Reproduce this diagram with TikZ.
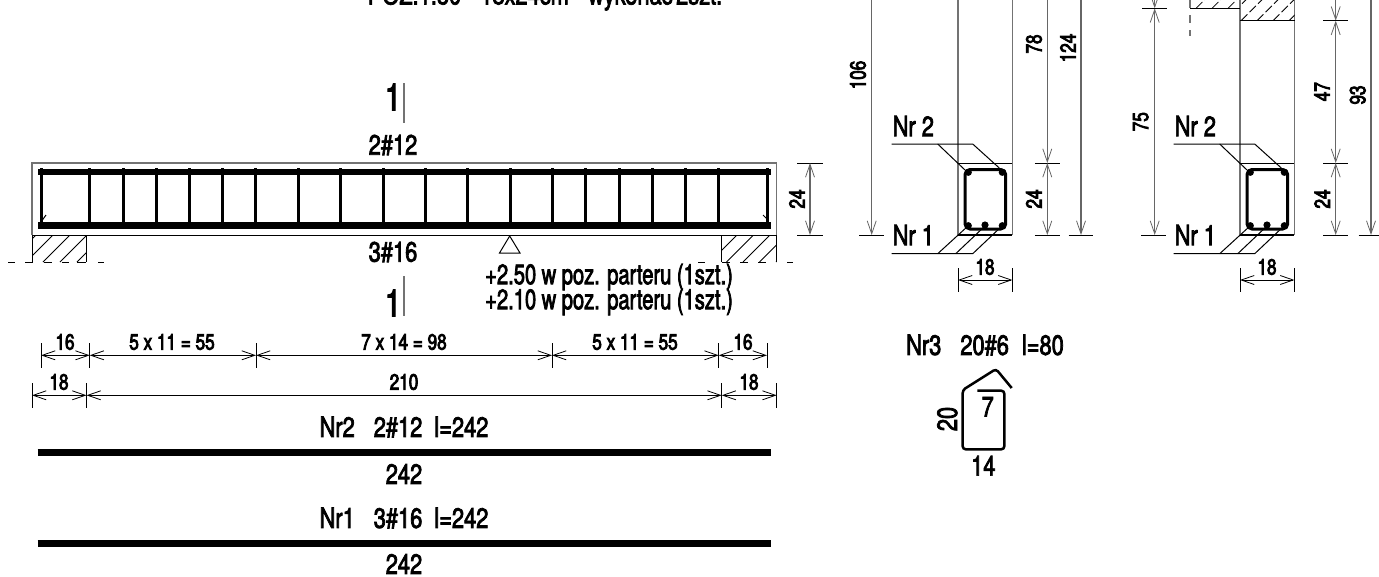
\documentclass[tikz,border=0pt]{standalone}
\usepackage{fontspec}
\setmainfont[FakeStretch=0.78,FakeBold=2.6]{TeX Gyre Heros}
\newfontfamily\narrowfam[FakeStretch=0.72,FakeBold=2.6]{TeX Gyre Heros}
\newfontfamily\smallfam[FakeStretch=0.78,FakeBold=3.6]{TeX Gyre Heros}
\usetikzlibrary{arrows.meta,positioning}
\newcommand\notefont{\fontsize{28}{30}\narrowfam\selectfont\spaceskip 5.5pt\relax}
\newcommand\titlefont{\fontsize{28}{30}\selectfont\spaceskip 3.5pt\relax}
\tikzset{
  thinline/.style = {line width=1pt, black},
  greyline/.style = {line width=1.3pt, black!55},
  hatchline/.style = {line width=.8pt, black},
  rebar/.style = {line width=6.8pt, black},
  stirrup/.style = {line width=3pt, black},
  dimline/.style = {line width=1pt, black, {Straight Barb[length=13pt,width=9pt,line width=.8pt]}-{Straight Barb[length=13pt,width=9pt,line width=.8pt]}},
  dimgrey/.style = {dimline, line width=1.3pt, black!60},
  tick/.style = {line width=1pt, black},
  big/.style = {font=\fontsize{28}{30}\selectfont, inner sep=0pt},
  note/.style = {inner sep=0pt},
  small/.style = {font=\fontsize{22}{24}\smallfam\selectfont, inner sep=0pt},
  huge1/.style = {font=\fontsize{38}{40}\selectfont, inner sep=0pt}
}

\begin{document}
\begin{tikzpicture}[x=1pt,y=-1pt]
\clip (0,0) rectangle (1379,576);

% title, cut by the top edge
\node[note] (title) at (545,-3) {\titlefont POZ.1.50 -- 18x24cm -- wykonać 2szt.};

% supports, under the beam
\begin{scope}
  \clip (32,235) rectangle (86.7,262);
  \foreach \x in {9,26,...,94}
    \draw[hatchline] (\x,262) -- ++(30,-30);
\end{scope}
\begin{scope}
  \clip (721.7,235) rectangle (776.7,262);
  \foreach \x in {710,726.5,...,790}
    \draw[hatchline] (\x,262) -- ++(30,-30);
\end{scope}
\draw[thinline] (32,262) -- (32,235) (86.7,235) -- (86.7,262);
\draw[thinline] (721.7,262) -- (721.7,235) (776.7,235) -- (776.7,262);
\foreach \a/\b in {8/15,25/33,44/52,62/69,77/86,98/104,698/705,722/730,740/748,758/766,787/793}
  \draw[thinline] (\a,262) -- (\b,262);

% beam outline
\draw[thinline] (32,235) -- (776.7,235);
\draw[greyline] (32,235) -- (32,163) -- (776.7,163) -- (776.7,235);

% stirrups
\foreach \x in {41.3,89.7,123,156,189.5,222.5,255.7,298,340.7,383,425.7,467.7,510,552,585.3,619,652.3,685.3,718.7,767}
  \draw[stirrup] (\x,168) -- (\x,229);
\draw[thinline] (41,222) -- (46,215);
\draw[thinline] (768,220) -- (763,215);

% main bars
\draw[rebar] (38,172) -- (771,172);
\draw[rebar] (38,225.5) -- (771,225.5);

% beam labels
\node[huge1] (cut1) at (393,97) {1};
\draw[greyline] (404,83) -- (404,123);
\node[big] (top12) at (393,145) {2\#12};
\node[big] (bot16) at (393,252) {3\#16};
\node[huge1] (cut2) at (393,303) {1};
\draw[greyline] (404,276) -- (404,316);
\draw[thinline] (509.7,236) -- (499.5,253) -- (520,253) -- cycle;
\node[note,anchor=west] (lev1) at (485,277) {\notefont +2.50 w poz. parteru (1szt.)};
\node[note,anchor=west] (lev2) at (485,302) {\notefont +2.10 w poz. parteru (1szt.)};

% 24 at the beam end
\draw[tick] (797,163) -- (823,163) (797,235) -- (823,235);
\draw[dimgrey] (810,163) -- (810,235);
\node[small,rotate=90] (h24) at (797,199) {24};

% stirrup spacing row
\foreach \x in {41,89.7,256,552,718.7,767}
  \draw[tick] (\x,343) -- (\x,368);
\draw[dimline] (41,355.3) -- (89.7,355.3);
\draw[dimline] (89.7,355.3) -- (256,355.3);
\draw[dimline] (256,355.3) -- (552,355.3);
\draw[dimline] (552,355.3) -- (718.7,355.3);
\draw[dimline] (718.7,355.3) -- (767,355.3);
\node[small] (s1) at (65,342) {16};
\node[small] (s2) at (172,342) {5 x 11 = 55};
\node[small] (s3) at (404,342) {7 x 14 = 98};
\node[small] (s4) at (635,342) {5 x 11 = 55};
\node[small] (s5) at (743,342) {16};

% supports row
\foreach \x in {32,86.5,721.7,776.7}
  \draw[tick] (\x,383) -- (\x,408);
\draw[dimline] (32,395.3) -- (86.5,395.3);
\draw[dimline] (86.5,395.3) -- (721.7,395.3);
\draw[dimline] (721.7,395.3) -- (776.7,395.3);
\node[small] (a1) at (59,382) {18};
\node[small] (a2) at (404,382) {210};
\node[small] (a3) at (749,382) {18};

% bars, drawn out
\node[big] (nr2) at (404,427) {Nr2\hspace{19pt}2\#12\hspace{12pt}l=242};
\draw[rebar] (37.7,452.3) -- (770.7,452.3);
\node[big] (l2) at (404,474) {242};
\node[big] (nr1) at (404,518) {Nr1\hspace{19pt}3\#16\hspace{12pt}l=242};
\draw[rebar] (37.7,543.7) -- (770.7,543.7);
\node[big] (l1) at (404,564) {242};

% both cross sections
\foreach \s in {0,282} {
\begin{scope}[xshift=\s pt]
  \draw[greyline] (958,-5) -- (958,235) (1012.4,-5) -- (1012.4,235);
  \draw[thinline] (958,163) -- (1012.4,163);
  \draw[line width=1.2pt] (958,235) -- (1012.4,235);
  \draw[stirrup,rounded corners=5pt] (965,169.5) rectangle (1005.7,229);
  \foreach \x/\y in {968.3/172.3,1002.3/172.3,968.3/225.7,985/225,1002.3/225.7}
    \fill (\x,\y) circle (3.6);
  % leaders
  \node[big,anchor=west] (nrtwo\s) at (892.5,126) {Nr 2};
  \node[big,anchor=west] (nrone\s) at (892.5,235) {Nr 1};
  \draw[thinline] (891.7,144) -- (972.7,144) -- (999.3,168);
  \draw[thinline] (937.7,144) -- (965,170);
  \draw[thinline] (891.7,253.7) -- (972.7,253.7) -- (1002,226);
  \draw[thinline] (937.7,253.7) -- (968,226);
  \draw[thinline] (955.7,253.7) -- (985,226);
  % width
  \draw[tick] (958,268) -- (958,292) (1012.4,268) -- (1012.4,292);
  \draw[dimline] (958,280) -- (1012.4,280);
  \node[small] (wid\s) at (985,267) {18};
  % tick of the long left height
  \draw[tick] (859,235) -- (884,235);
\end{scope}
}

% the 24 beside each section
\foreach \x/\n in {1047.3/a,1335.7/b} {
  \draw[tick] (\x-12.5,163) -- (\x+12.5,163);
  \draw[tick] (\x-12.5,235) -- (\x+12.5,235);
  \draw[dimgrey] (\x,163) -- (\x,235);
  \node[small,rotate=90] (low\n) at (\x-13.5,199) {24};
}

% left section, heights
\draw[dimgrey] (871.7,-40) -- (871.7,235);
\node[small,rotate=90] (d106) at (858,75) {106};
\draw[dimgrey] (1047.3,-40) -- (1047.3,163);
\node[small,rotate=90] (d78) at (1034,44) {78};
\draw[dimgrey] (1081,-40) -- (1081,235);
\draw[tick] (1068.7,235) -- (1093,235);
\node[small,rotate=90] (d124) at (1068,48) {124};

% right section, top part
\begin{scope}
  \clip (1190,0) rectangle (1240,8.3);
  \foreach \x in {1180,1196,...,1250}
    \draw[hatchline,dash pattern=on 9pt off 3pt] (\x,8.3) -- ++(30,-30);
\end{scope}
\begin{scope}
  \clip (1240,0) rectangle (1294.7,20.7);
  \foreach \x in {1225,1241,...,1300}
    \draw[hatchline,dash pattern=on 9pt off 3pt] (\x,20.7) -- ++(30,-30);
\end{scope}
\draw[thinline] (1190,8.3) -- (1240,8.3);
\draw[line width=1.2pt] (1240,20.7) -- (1294.7,20.7);
\draw[greyline,dash pattern=on 8pt off 7pt] (1190,0) -- (1190,36);
\draw[dimgrey] (1154.7,-40) -- (1154.7,8.3);
\draw[dimgrey] (1154.7,8.3) -- (1154.7,235);
\draw[tick] (1142,8.3) -- (1167,8.3);
\node[small,rotate=90] (d75) at (1140.7,121.7) {75};
\draw[dimgrey] (1335.7,-40) -- (1335.7,20.7);
\draw[dimgrey] (1335.7,20.7) -- (1335.7,163);
\draw[tick] (1323,20.7) -- (1348,20.7);
\node[small,rotate=90] (d47) at (1322,91.7) {47};
\draw[dimgrey] (1371,-40) -- (1371,235);
\draw[tick] (1358.7,235) -- (1383,235);
\node[small,rotate=90] (d93) at (1357.7,95) {93};

% shape of the stirrup
\node[big] (nr3) at (985,345) {Nr3\hspace{19pt}20\#6\hspace{13pt}l=80};
\draw[stirrup,line width=2.5pt] (977.3,390.7) [rounded corners=3pt] -- (1004.3,390.7) -- (1004.3,449.3) -- (962.7,449.3) -- (962.7,390) -- (996,369) -- (1011.7,388);
\node[big,rotate=90] (sh20) at (947.3,419) {20};
\node[big] (sh7) at (987.7,406.7) {7};
\node[big] (sh14) at (983.3,465.7) {14};
\end{tikzpicture}
\end{document}
